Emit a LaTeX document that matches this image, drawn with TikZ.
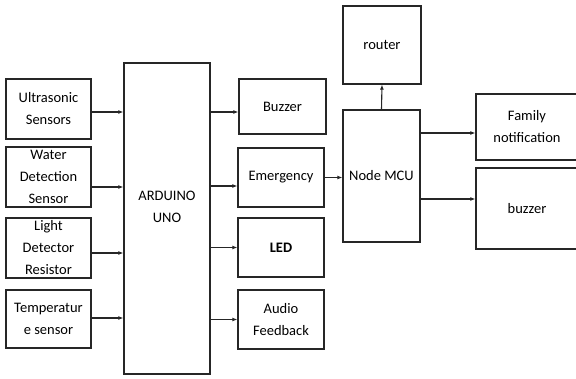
\documentclass[tikz,border=0pt]{standalone}
\usepackage{fontspec}
\setmainfont{Carlito}
\usepackage{tikz}
\usetikzlibrary{arrows.meta, positioning, calc}
\definecolor{blkline}{HTML}{262626}
\tikzset{
  blk/.style={draw=blkline, line width=1.25pt, inner sep=0pt, align=center,
              font=\fontsize{14.5}{22}\selectfont},
  arrow/.style={-{Latex[length=5pt,width=4pt]}, line width=1.1pt, draw=blkline}
}

\begin{document}
\begin{tikzpicture}[x=1pt, y=-1pt]
    \useasboundingbox (0,0) rectangle (576,379);
    % inputs
    \node[blk, minimum width=85, minimum height=60] (us) at (48.5,109) {Ultrasonic\\Sensors};
    \node[blk, minimum width=85, minimum height=60] (wds) at (48.5,177) {Water\\Detection\\Sensor};
    \node[blk, minimum width=85, minimum height=60] (ldr) at (48.5,248) {Light\\Detector\\Resistor};
    \node[blk, minimum width=85, minimum height=58] (temp) at (48.5,319) {Temperatur\\e sensor};
    % controller
    \node[blk, minimum width=86, minimum height=311,
          label={[font=\fontsize{14.5}{22}\selectfont, align=center, yshift=11.5pt]center:ARDUINO\\UNO}] (ard) at (167,218.5) {};
    % outputs
    \node[blk, minimum width=87, minimum height=55] (buz) at (282.5,106.5) {Buzzer};
    \node[blk, minimum width=86, minimum height=59] (emg) at (281,177.5) {Emergency};
    \node[blk, minimum width=86, minimum height=59] (led) at (281,247.5) {\textbf{LED}};
    \node[blk, minimum width=86, minimum height=59] (aud) at (281,319.5) {Audio\\Feedback};
    % wifi side
    \node[blk, minimum width=78, minimum height=78] (rout) at (382,45) {router};
    \node[blk, minimum width=77, minimum height=132] (mcu) at (381.5,176) {Node MCU};
    \node[blk, minimum width=102, minimum height=66] (fam) at (527,127) {Family\\notification};
    \node[blk, minimum width=102, minimum height=81] (bzr) at (527,208.5) {buzzer};

    \draw[arrow] ([yshift=-3pt]us.east) -- ([yshift=-3pt]us.east -| ard.west);
    \draw[arrow] ([yshift=-10pt]wds.east) -- ([yshift=-10pt]wds.east -| ard.west);
    \draw[arrow] ([yshift=-5pt]ldr.east) -- ([yshift=-5pt]ldr.east -| ard.west);
    \draw[arrow] ([yshift=1pt]temp.east) -- ([yshift=1pt]temp.east -| ard.west);

    \draw[arrow] ([yshift=-5.5pt]buz.west -| ard.east) -- ([yshift=-5.5pt]buz.west);
    \draw[arrow] ([yshift=-8.5pt]emg.west -| ard.east) -- ([yshift=-8.5pt]emg.west);
    \draw[arrow] (led.west -| ard.east) -- (led.west);
    \draw[arrow] (aud.west -| ard.east) -- (aud.west);

    \draw[arrow] (emg.east) -- (emg.east -| mcu.west);
    \draw[arrow] (mcu.north) -- (rout.south);
    \draw[arrow] ([yshift=-6pt]fam.west -| mcu.east) -- ([yshift=-6pt]fam.west);
    \draw[arrow] ([yshift=9.5pt]bzr.west -| mcu.east) -- ([yshift=9.5pt]bzr.west);
\end{tikzpicture}
\end{document}
